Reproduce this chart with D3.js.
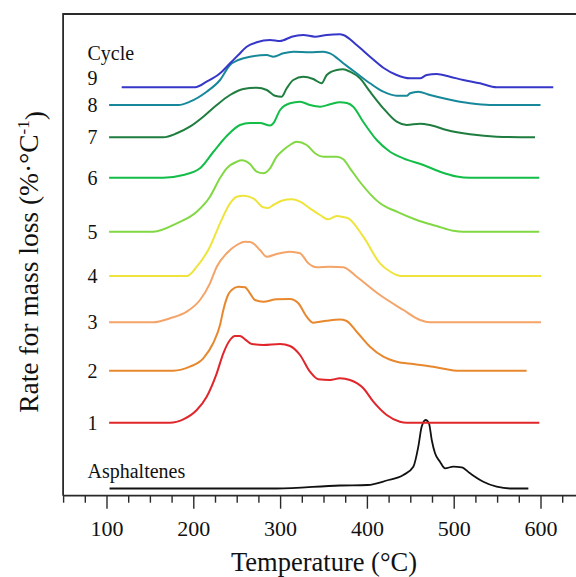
<!DOCTYPE html>
<html>
<head>
<meta charset="utf-8">
<script src="https://cdn.jsdelivr.net/npm/d3@7"></script>
<style>
  html, body { margin: 0; padding: 0; background: #fff; }
  svg { display: block; }
  text { font-family: "Liberation Serif", "Times New Roman", Times, serif; fill: #111; }
</style>
</head>
<body>
<svg id="chart" width="576" height="577"></svg>
<script>
// Derivative thermogravimetry (DTG) curves: [temperature °C, rate above own baseline]
const asphaltenes = [[103.5,0],[296,0],[369,0.03],[400.8,0.035],[422.8,0.08],[442,0.135],[453.5,0.218],[459.2,0.418],[463.1,0.618],[467.7,0.685],[471.5,0.652],[474.7,0.485],[478.5,0.352],[484.2,0.268],[490,0.202],[499.5,0.218],[509.2,0.212],[518.8,0.152],[534.1,0.068],[549.5,0.018],[565,0],[586,0]];
const cycle1 = [[103,0],[173,0],[188.5,0.034],[204,0.127],[215.4,0.26],[227,0.494],[234.6,0.694],[242.3,0.827],[248,0.867],[253.8,0.867],[259.6,0.834],[267.3,0.787],[280.6,0.777],[300,0.787],[311.4,0.767],[322.9,0.677],[334.4,0.51],[344,0.434],[357.5,0.427],[369,0.444],[380.5,0.427],[395.9,0.344],[407.4,0.21],[422.8,0.077],[438,0.01],[446,0],[598.6,0]];
const cycle2 = [[103,0],[177,0],[196,0.04],[211.5,0.124],[223,0.277],[230.8,0.457],[234.6,0.607],[240,0.757],[244.2,0.807],[251.8,0.84],[259.6,0.834],[265.3,0.774],[271,0.707],[280.6,0.69],[296,0.714],[311.4,0.717],[321,0.674],[330.6,0.54],[338.2,0.48],[353.7,0.5],[369,0.512],[376,0.5],[388.2,0.39],[403.6,0.24],[418.9,0.14],[434.3,0.09],[453.5,0.067],[476.5,0.04],[491.9,0.014],[503.5,0],[584,0]];
const cycle3 = [[103,0],[154,0],[173.2,0.04],[192.4,0.106],[207.7,0.223],[219.2,0.39],[227,0.556],[238.5,0.69],[250,0.773],[259.6,0.806],[265.3,0.803],[269,0.79],[276.8,0.723],[284.6,0.656],[296,0.683],[311.4,0.706],[323,0.69],[332.5,0.59],[342.2,0.55],[357.5,0.556],[372.8,0.55],[388.2,0.456],[415.1,0.273],[442,0.123],[461.2,0.023],[472.7,0],[600.6,0]];
const cycle4 = [[103,0],[192.4,0],[204,0.093],[219.2,0.293],[230.8,0.527],[242.3,0.727],[250,0.793],[257.6,0.803],[269,0.777],[280.6,0.687],[286,0.68],[292.2,0.71],[301.8,0.753],[313.4,0.767],[323,0.743],[334.4,0.677],[346,0.61],[355.5,0.567],[365.2,0.6],[372.5,0.59],[378.6,0.577],[395.9,0.393],[415.1,0.127],[426.6,0.045],[434.3,0.01],[440,0],[600.6,0]];
const cycle5 = [[103,0],[154,0],[181,0.084],[204,0.2],[219.2,0.35],[230.8,0.537],[238.5,0.634],[250,0.7],[255.8,0.714],[265.3,0.677],[273,0.6],[280.6,0.584],[288.4,0.634],[296,0.75],[303.7,0.817],[311.4,0.867],[319,0.9],[330.6,0.867],[340.2,0.784],[349.8,0.75],[365.2,0.75],[372.8,0.724],[380.5,0.634],[392,0.497],[415.1,0.284],[434.3,0.2],[457.4,0.117],[480.4,0.057],[499.5,0.01],[511,0],[598.6,0]];
const cycle6 = [[103,0],[165.4,0],[188.5,0.027],[207.7,0.094],[223,0.257],[238.5,0.417],[253.8,0.527],[265.3,0.547],[276.8,0.547],[288.4,0.522],[292.2,0.544],[300,0.677],[311.4,0.744],[323,0.76],[334.4,0.727],[346,0.71],[357.5,0.734],[369,0.754],[377,0.747],[384.3,0.71],[395.9,0.557],[411.3,0.377],[426.6,0.26],[442,0.194],[465,0.127],[484.2,0.06],[503.5,0.012],[518.8,0],[598.6,0]];
const cycle7 = [[103,0],[165.4,0],[181,0.04],[196,0.106],[211.5,0.206],[227,0.323],[242.3,0.423],[257.6,0.483],[273,0.496],[284.6,0.473],[294.1,0.416],[301.8,0.406],[307.6,0.49],[315.2,0.573],[326.7,0.606],[338.2,0.583],[347.9,0.54],[353.7,0.623],[365.2,0.673],[372.5,0.68],[380.5,0.656],[392,0.59],[403.6,0.456],[418.9,0.29],[434.3,0.156],[445.9,0.123],[461.2,0.136],[472.7,0.123],[491.9,0.073],[518.8,0.03],[549.5,0.006],[593.7,0]];
const cycle8 = [[103,0],[182.7,0],[196,0.033],[215.4,0.133],[230.8,0.25],[242.3,0.4],[251.8,0.45],[265.3,0.483],[284.6,0.5],[292.2,0.483],[303.7,0.517],[315.2,0.533],[334.4,0.527],[349.8,0.533],[357.5,0.517],[372.8,0.417],[388.2,0.317],[403.6,0.217],[418.9,0.133],[434.3,0.093],[445.9,0.093],[449.7,0.117],[459.2,0.133],[472.7,0.1],[491.9,0.06],[518.8,0.017],[541.8,0],[600,0]];
const cycle9 = [[117.5,0],[202,0],[215.4,0.056],[230.8,0.14],[242.3,0.24],[251.8,0.323],[261.5,0.406],[273,0.45],[288.4,0.473],[300,0.462],[303.7,0.47],[313.4,0.506],[326.7,0.523],[340.2,0.506],[353.7,0.523],[369,0.53],[372.8,0.523],[388.2,0.423],[403.6,0.306],[418.9,0.196],[434.3,0.123],[449.7,0.09],[461.2,0.09],[468.9,0.123],[480.4,0.133],[495.7,0.106],[511,0.073],[530.3,0.04],[549.5,0],[614.7,0]];

// Curve names (drawn as labels) and the vertical offset of each stacked curve
const curveLabels = ["Asphaltenes", "1", "2", "3", "4", "5", "6", "7", "8", "9"];
const curveOffsets = [0.072, 0.73, 1.25, 1.734, 2.197, 2.64, 3.18, 3.584, 3.907, 4.084];
const curveData = [asphaltenes, cycle1, cycle2, cycle3, cycle4, cycle5, cycle6, cycle7, cycle8, cycle9];

// Axis ticks
const majorTicks = [100, 200, 300, 400, 500, 600];
const minorTicks = d3.range(50, 651, 25);

const palette = ["#111111", "#e0262a", "#e8882e", "#f4a468", "#eee43c", "#80d843", "#12bd48", "#1f7d3f", "#17889a", "#3636c8"];

const svg = d3.select("#chart");
const x = d3.scaleLinear().domain([50, 650]).range([63.1, 583.9]);
const y = d3.scaleLinear().domain([0, 4.817]).range([495.7, 14]);

// Frame: left and top edges
svg.append("path")
  .attr("d", `M${x(50)},${y(0)}V${y(4.817)}H576`)
  .attr("fill", "none").attr("stroke", "#2a2a2a").attr("stroke-width", 1.8);

// Minor ticks
const minorAxis = d3.axisBottom(x).tickValues(minorTicks.filter(t => !majorTicks.includes(t)))
  .tickSize(7).tickFormat("");
svg.append("g").attr("transform", `translate(0,${y(0)})`).call(minorAxis)
  .call(g => g.select(".domain").remove())
  .selectAll("line").attr("stroke", "#2a2a2a").attr("stroke-width", 1.4);

// Major ticks with labels
const majorAxis = d3.axisBottom(x).tickValues(majorTicks).tickSize(13).tickPadding(12)
  .tickFormat(d3.format("d"));
const gx = svg.append("g").attr("transform", `translate(0,${y(0)})`).call(majorAxis);
gx.select(".domain").attr("stroke", "#2a2a2a").attr("stroke-width", 1.8)
  .attr("d", `M${x(50)},0H576`);
gx.selectAll(".tick line").attr("stroke", "#2a2a2a").attr("stroke-width", 1.4);
gx.selectAll(".tick text")
  .style("font-family", '"Liberation Serif", "Times New Roman", serif')
  .style("font-size", "22px").attr("fill", "#111");

// Curves
const line = d3.line().curve(d3.curveMonotoneX);
curveData.forEach((pts, i) => {
  svg.append("path")
    .attr("d", line(pts.map(([t, v]) => [x(t), y(v + curveOffsets[i])])))
    .attr("fill", "none")
    .attr("stroke", palette[i])
    .attr("stroke-width", i === 0 ? 1.8 : 2)
    .attr("stroke-linejoin", "round");
});

// Curve labels
curveLabels.forEach((name, i) => {
  const base = y(curveOffsets[i]);
  let yy;
  if (i === 0) yy = base - 11;
  else if (i === 9) yy = base - 2.5;
  else yy = base + 6.8;
  svg.append("text").attr("x", 87.5).attr("y", yy)
    .style("font-size", "20px").text(name);
});
svg.append("text").attr("x", 87.5).attr("y", 59.5)
  .style("font-size", "20px").text("Cycle");

// Axis titles
svg.append("text").attr("x", 324).attr("y", 570.5).attr("text-anchor", "middle")
  .style("font-size", "26.5px").text("Temperature (°C)");

const yt = svg.append("text").attr("transform", "translate(38,262) rotate(-90)")
  .attr("text-anchor", "middle").style("font-size", "27.5px");
yt.append("tspan").text("Rate for mass loss (%·°C");
yt.append("tspan").attr("dy", "-0.55em").style("font-size", "17px").text("-1");
yt.append("tspan").attr("dy", "0.55em").text(")");
</script>
</body>
</html>
